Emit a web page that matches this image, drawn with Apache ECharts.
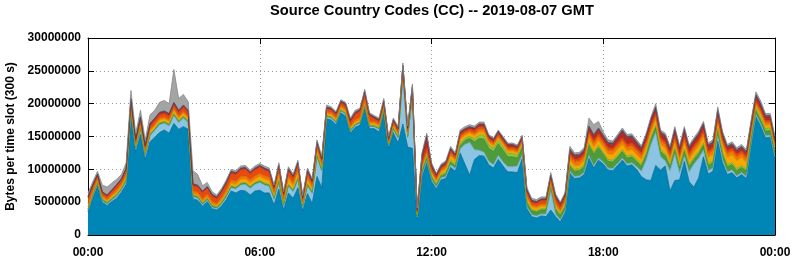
<!DOCTYPE html>
<html><head><meta charset="utf-8">
<script src="https://cdn.jsdelivr.net/npm/echarts@6/dist/echarts.min.js"></script>
<style>html,body{margin:0;padding:0;background:#fff}#c{width:795px;height:260px}</style>
</head><body><div id="c"></div>
<script>
// 10-minute slots, 00:00 .. 24:00 (145 samples), values in millions of bytes per 300 s slot
const UNIT = 1e6;
const SLOT_MIN = 10;
const tickLabels = ['00:00','06:00','12:00','18:00','00:00'];
const yTicks = [0, 5000000, 10000000, 15000000, 20000000, 25000000, 30000000];

const blue = [3.5,5.7,7.5,5.0,4.5,5.1,5.6,6.5,7.7,
18.3,12.6,15.3,11.5,14.2,14.9,15.6,16.0,15.5,17.0,16.1,16.5,16.1,
5.5,5.3,4.4,5.1,4.0,3.8,4.4,5.4,6.7,6.4,6.8,6.7,6.1,6.7,6.8,6.4,6.4,4.6,7.0,3.8,6.4,5.6,7.2,3.7,6.3,4.8,8.9,7.2,
17.7,17.5,16.8,18.6,18.1,15.5,16.4,16.7,19.3,16.2,16.2,15.7,18.6,13.2,15.6,14.0,16.9,13.4,13.2,
2.5,8.9,11.0,8.2,7.0,8.4,8.6,10.3,9.7,12.5,10.8,9.1,11.5,12.1,12.0,10.7,10.2,11.5,10.5,9.6,9.6,9.5,11.6,
4.0,2.8,2.6,2.9,2.8,3.8,2.8,2.0,3.4,
9.4,8.6,8.7,9.2,11.7,10.2,11.4,10.8,9.9,9.8,10.6,11.4,10.5,10.7,10.0,8.9,8.4,8.3,10.6,9.9,10.5,6.7,8.3,8.4,11.2,8.1,7.3,8.7,11.9,9.3,9.7,14.3,11.0,9.2,9.5,8.7,9.2,8.6,13.7,18.0,16.6,14.8,14.9,11.6];

const lightBlue = [.2,.2,.3,.2,.2,.2,.3,.3,.4,
.6,.5,.8,.6,.9,1.0,1.2,1.0,1.1,1.2,1.0,1.3,1.0,
.3,.3,.2,.2,.2,.2,.3,.4,.5,.6,.8,1.0,1.0,1.0,1.2,1.2,1.0,.8,1.0,.6,1.0,1.0,1.2,.5,1.2,1.5,3.0,2.5,
.3,.3,.3,.3,.3,.3,.3,.3,.3,.3,.3,.4,.4,.4,.5,.8,7.5,1.5,8.0,
.2,.3,.3,.3,.3,.3,.3,.4,.4,.6,3.0,5.0,1.5,.8,.6,.5,.5,.6,.6,.8,.8,1.0,.6,
.3,.3,.3,.3,.4,3.0,.4,.3,.3,
.3,.3,.3,.3,.4,.3,.3,.3,.3,.3,.3,.3,.3,.3,.4,.8,3.0,5.5,5.0,2.0,.8,3.0,4.0,1.0,.8,1.5,3.5,3.0,1.0,.5,.5,.8,.5,.4,.4,.3,.3,.3,.3,.3,.3,.3,.3,.3];

const darkGreen = [.2,.2,.2,.2,.2,.2,.2,.2,.3,
.2,.2,.2,.2,.2,.2,.2,.2,.2,.2,.2,.2,.2,
.2,.2,.2,.2,.2,.2,.2,.2,.2,.2,.2,.2,.2,.2,.2,.2,.2,.2,.2,.2,.2,.2,.2,.2,.2,.2,.2,.2,
.1,.1,.1,.1,.1,.1,.1,.1,.1,.1,.1,.1,.1,.1,.1,.1,.1,.1,.1,
.2,.4,.4,.3,.3,.3,.4,.4,.4,.5,.6,.6,1.2,1.8,2.0,2.0,2.0,1.8,1.8,1.5,1.5,1.2,1.0,
.6,.6,.6,.6,.6,.6,.7,.7,.6,
.8,.8,.8,.9,1.6,1.8,1.6,1.2,1.0,1.0,1.0,1.0,.9,.9,.8,.8,.8,.8,.8,.8,.8,.7,.7,.8,.8,.8,.7,.7,.8,.8,.8,.8,.8,.8,.8,.8,.8,.8,.7,.6,.6,.7,.7,.6];

const lightGreen = [.1,.1,.1,.1,.1,.1,.1,.1,.1,
.1,.1,.1,.1,.1,.1,.1,.1,.1,.1,.1,.1,.1,
.1,.1,.1,.1,.1,.1,.1,.1,.1,.1,.1,.1,.1,.1,.1,.1,.1,.1,.1,.1,.1,.1,.1,.1,.1,.1,.1,.1,
.1,.1,.1,.1,.1,.1,.1,.1,.1,.1,.1,.1,.1,.1,.1,.1,.1,.1,.1,
.1,.3,.3,.2,.2,.2,.3,.3,.3,.3,.3,.3,.4,.5,.6,.5,.5,.5,.5,.5,.5,.4,.4,
.2,.2,.2,.2,.2,.2,.2,.2,.2,
.3,.3,.3,.3,.3,.3,.3,.3,.3,.3,.3,.3,.3,.3,.3,.3,.3,.3,.3,.3,.3,.3,.3,.3,.3,.3,.3,.3,.3,.3,.3,.3,.3,.3,.3,.3,.3,.3,.4,.4,.4,.4,.4,.4];

const yellow = [.3,.2,.2,.2,.2,.3,.3,.3,.4,
.4,.3,.4,.3,.4,.4,.4,.4,.4,.5,.4,.4,.4,
.2,.2,.2,.2,.2,.2,.3,.3,.4,.4,.5,.5,.5,.5,.6,.6,.6,.4,.8,.4,.8,.6,.8,.3,.6,.5,.6,.5,
.3,.3,.3,.3,.3,.3,.3,.3,.4,.3,.3,.3,.3,.2,.3,.3,.3,.3,.3,
.2,.4,.4,.4,.4,.4,.5,.6,.5,.6,.5,.5,.5,.5,.5,.4,.4,.4,.4,.4,.4,.4,.4,
.5,.4,.4,.4,.4,.4,.4,.3,.4,
.6,.5,.5,.6,.8,.8,.8,.8,.8,.8,.8,.8,.8,.8,.7,.7,.8,.8,.8,.8,.8,.7,.8,.8,.9,.8,.8,.8,.9,.9,1.0,.8,1.0,1.1,1.2,1.2,1.2,1.0,.6,.5,.5,.5,.5,.5];

const orange = [.5,.4,.3,.3,.3,.3,.4,.4,.4,
.3,.3,.3,.3,.3,.3,.3,.3,.3,.3,.3,.3,.3,
.4,.4,.4,.4,.4,.3,.4,.5,.5,.5,.5,.5,.5,.5,.5,.5,.5,.4,.5,.4,.5,.5,.5,.3,.5,.4,.5,.4,
.3,.3,.3,.3,.3,.3,.4,.4,.4,.3,.3,.3,.3,.2,.3,.3,.3,.3,.3,
.2,.3,.3,.3,.3,.3,.3,.4,.3,.4,.3,.3,.4,.4,.4,.3,.3,.3,.3,.3,.3,.3,.3,
.4,.3,.3,.3,.3,.3,.4,.3,.4,
.6,.6,.6,.6,.6,.6,.6,.6,.6,.6,.6,.6,.6,.6,.6,.6,.6,.6,.6,.6,.6,.6,.6,.6,.6,.6,.6,.6,.6,.6,.6,.6,.6,.6,.6,.6,.6,.6,.4,.4,.4,.4,.4,.4];

const redOrange = [.8,.6,.4,.4,.4,.4,.5,.5,.5,
.5,.4,.5,.4,.5,.5,.5,.5,.5,.5,.5,.6,.5,
.8,.8,.9,.9,.8,.7,.8,.9,1.0,1.0,1.0,1.0,.9,.9,.9,.9,.8,.6,.8,.6,.8,.7,.8,.4,.7,.5,.6,.5,
.4,.4,.4,.4,.5,.6,.8,.9,1.0,.8,.4,.4,.4,.3,.4,.4,.4,.4,.4,
.2,.5,.6,.4,.3,.3,.3,.4,.3,.4,.3,.3,.4,.4,.4,.3,.3,.3,.3,.3,.3,.3,.3,
.5,.4,.4,.5,.5,.5,.6,.5,.5,
.4,.4,.4,.4,.4,.4,.4,.4,.4,.4,.4,.4,.4,.4,.4,.4,.4,.4,.4,.4,.4,.4,.4,.4,.4,.4,.4,.4,.4,.4,.4,.4,.4,.4,.4,.4,.4,.4,.3,.3,.3,.3,.3,.3];

const darkRed = [.2,.2,.2,.1,.1,.2,.2,.2,.3,
.3,.2,.3,.2,.3,.3,.3,.3,.3,.3,.3,.3,.3,
.2,.2,.2,.2,.2,.2,.2,.2,.2,.2,.2,.2,.2,.2,.2,.2,.2,.2,.2,.2,.2,.2,.2,.2,.2,.2,.2,.2,
.2,.2,.2,.2,.2,.2,.2,.2,.2,.2,.2,.2,.2,.2,.2,.2,.2,.2,.2,
.2,1.0,1.8,.6,.3,.3,.3,.3,.3,.3,.3,.3,.3,.3,.3,.3,.3,.3,.3,.3,.3,.3,.3,
.3,.2,.2,.2,.2,.3,.4,.4,.3,
.5,.5,.5,.5,.6,.7,.7,.6,.6,.6,.8,1.0,1.0,.9,.8,.6,.7,.8,.8,.7,.8,.6,.9,.8,1.0,.7,.7,.8,.9,.7,.7,.9,.7,.5,.5,.5,.5,.5,.6,.7,.7,.6,.5,.4];

const slate = [.1,.1,.1,.1,.1,.1,.1,.1,.1,
.1,.1,.1,.1,.1,.1,.1,.1,.1,.1,.1,.1,.1,
.1,.1,.1,.1,.1,.1,.1,.1,.1,.1,.1,.1,.1,.1,.1,.1,.1,.1,.1,.1,.1,.1,.1,.1,.1,.1,.1,.1,
.1,.1,.1,.1,.1,.1,.1,.1,.1,.1,.1,.1,.1,.1,.1,.1,.1,.1,.1,
.1,.1,.1,.1,.1,.1,.1,.1,.1,.1,.1,.1,.1,.1,.1,.1,.1,.1,.1,.1,.1,.1,.1,
.1,.1,.1,.1,.1,.1,.1,.1,.1,
.2,.2,.2,.2,.2,.2,.2,.2,.2,.2,.2,.2,.2,.2,.2,.2,.2,.2,.2,.2,.2,.2,.2,.2,.2,.2,.2,.2,.2,.2,.2,.2,.2,.2,.2,.2,.2,.2,.2,.2,.2,.2,.2,.2];

const gray = [.5,.4,.4,1.0,1.2,1.0,.8,.6,.8,
1.2,.8,1.0,.8,1.3,1.2,1.5,1.6,1.5,5.0,1.8,1.6,1.3,
2.0,1.6,.8,.6,.4,.3,.3,.3,.3,.3,.3,.3,.3,.3,.3,.3,.3,.2,.3,.2,.3,.3,.3,.2,.3,.3,.3,.3,
.3,.2,.2,.2,.2,.3,.3,.2,.3,.2,.2,.2,.3,.2,.2,.2,.3,.2,.3,
.2,.3,.3,.2,.2,.2,.2,.3,.2,.3,.3,.3,.3,.3,.3,.2,.2,.2,.2,.2,.2,.2,.2,
.3,.3,.3,.3,.3,.3,.3,.2,.3,
.4,.3,.3,.3,1.2,1.5,1.0,.5,.4,.3,.3,.3,.3,.3,.3,.3,.3,.3,.5,.3,.3,.3,.3,.3,.3,.3,.3,.3,.3,.3,.3,.4,.3,.3,.3,.3,.3,.3,.3,.4,.4,.3,.3,.3];

// slot labels (HH:MM) for the category axis
const slots = blue.map((_, i) => {
  const m = i * SLOT_MIN, h = Math.floor(m / 60), mm = m % 60;
  return String(h).padStart(2, '0') + ':' + String(mm).padStart(2, '0');
});

const layers = [
  {name:'CC 1', data:blue,       fill:'#0086b6', edge:'#006690'},
  {name:'CC 2', data:lightBlue,  fill:'#8cc4e4', edge:'#6aa8cc'},
  {name:'CC 3', data:darkGreen,  fill:'#4f9a3a', edge:'#3c7f2c'},
  {name:'CC 4', data:lightGreen, fill:'#8cc83c', edge:'#6fa82c'},
  {name:'CC 5', data:yellow,     fill:'#f7a800', edge:'#d89000'},
  {name:'CC 6', data:orange,     fill:'#f27800', edge:'#d06000'},
  {name:'CC 7', data:redOrange,  fill:'#e64a10', edge:'#c83808'},
  {name:'CC 8', data:darkRed,    fill:'#b42a24', edge:'#90201c'},
  {name:'CC 9', data:slate,      fill:'#4a5a78', edge:'#3a4a66'},
  {name:'CC 10',data:gray,       fill:'#a4a4a4', edge:'#888888'}
];

const font = 'Liberation Sans, Arial, Helvetica, sans-serif';
const chart = echarts.init(document.getElementById('c'), null, {renderer:'canvas'});

const series = layers.map(l => ({
  name: l.name,
  type: 'line',
  stack: 'total',
  symbol: 'none',
  smooth: false,
  animation: false,
  lineStyle: {width: 0.8, color: l.edge},
  areaStyle: {color: l.fill, opacity: 1},
  itemStyle: {color: l.fill},
  data: l.data.map(v => v * UNIT)
}));

const every6h = (i) => i % 36 === 0;
const baseX = {type:'category', data: slots, boundaryGap: false};
const baseY = {type:'value', min:0, max:30000000, interval:5000000};

chart.setOption({
  animation: false,
  backgroundColor: '#fff',
  title: {
    text: 'Source Country Codes (CC) -- 2019-08-07 GMT',
    left: 432, top: 3, padding: 0, textAlign: 'center',
    textStyle: {fontFamily: font, fontWeight: 'bold', fontSize: 14.7, color: '#000'}
  },
  grid: {left: 88, right: 20, top: 38, bottom: 25, show: false, containLabel: false, outerBoundsMode: 'none'},
  xAxis: [
    Object.assign({}, baseX, {
      position: 'bottom',
      axisLine: {show: true, onZero: false, lineStyle: {color: '#000', width: 1}},
      axisTick: {show: true, inside: true, length: 6, interval: every6h, lineStyle: {color: '#000'}},
      axisLabel: {color: '#000', fontFamily: font, fontWeight: 'bold', fontSize: 12, margin: 12,
        interval: every6h, formatter: (v, i) => tickLabels[Math.round(i / 36)]},
      splitLine: {show: true, interval: every6h, lineStyle: {color: '#9a9a9a', type: [1, 3], width: 1}}
    }),
    Object.assign({}, baseX, {
      position: 'top',
      axisLine: {show: true, onZero: false, lineStyle: {color: '#000', width: 1}},
      axisTick: {show: true, inside: true, length: 6, interval: every6h, lineStyle: {color: '#000'}},
      axisLabel: {show: false},
      splitLine: {show: false}
    })
  ],
  yAxis: [
    Object.assign({}, baseY, {
      position: 'left',
      name: 'Bytes per time slot (300 s)',
      nameLocation: 'middle', nameGap: 71, nameRotate: 90,
      nameTextStyle: {color: '#000', fontFamily: font, fontWeight: 'bold', fontSize: 12},
      axisLine: {show: true, onZero: false, lineStyle: {color: '#000', width: 1}},
      axisTick: {show: true, inside: true, length: 6, lineStyle: {color: '#000'}},
      axisLabel: {color: '#000', fontFamily: font, fontWeight: 'bold', fontSize: 12, margin: 7,
        formatter: v => String(yTicks[Math.round(v / 5000000)])},
      splitLine: {show: true, lineStyle: {color: '#9a9a9a', type: [1, 3], width: 1}}
    }),
    Object.assign({}, baseY, {
      position: 'right',
      axisLine: {show: true, onZero: false, lineStyle: {color: '#000', width: 1}},
      axisTick: {show: true, inside: true, length: 6, lineStyle: {color: '#000'}},
      axisLabel: {show: false},
      splitLine: {show: false}
    })
  ],
  series: series
});
</script>
</body></html>
